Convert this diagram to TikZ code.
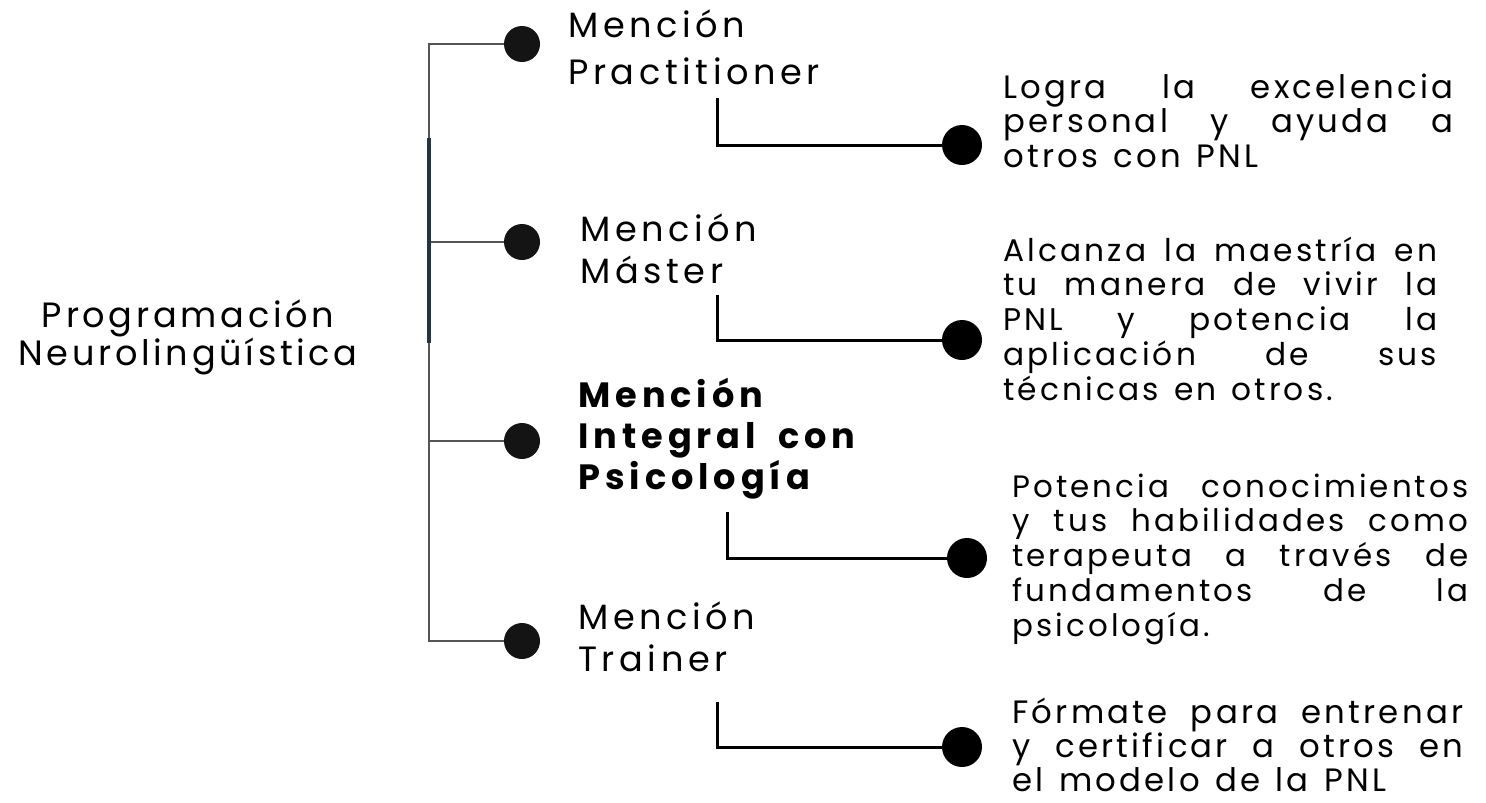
\documentclass[tikz,border=0pt]{standalone}
\usepackage{fontspec}
\setmainfont{Poppins}[LetterSpace=10]
\newfontfamily\descfont{Poppins}[LetterSpace=10,WordSpace=1.3]
\newfontfamily\boldlabelfont{Poppins}[LetterSpace=14,WordSpace=1.8]
\definecolor{trunkgray}{HTML}{555555}
\definecolor{trunknavy}{HTML}{243447}
\definecolor{dotblack}{HTML}{141414}

\begin{document}
\begin{tikzpicture}[x=0.02cm,y=-0.02cm,
    mention/.style={anchor=base west,inner sep=0pt,text width=8cm,align=left},
    desc/.style={anchor=base west,inner sep=0pt,align=justify},
    bigdot/.style={circle,fill=dotblack,inner sep=0pt,minimum size=0.72cm},
    enddot/.style={circle,fill=black,inner sep=0pt,minimum size=0.8cm},
    twig/.style={line width=1.1pt,trunkgray},
    elbow/.style={line width=1.7pt,black}]
    \useasboundingbox (0,0) rectangle (1486,802);
    % root label
    \node[anchor=base,inner sep=0pt,text width=8cm,align=center,
          font=\fontsize{20}{18.8}\selectfont\addfontfeature{LetterSpace=10.5}] (pnl) at (188,327)
          {Programación\\Neurolingüística};
    % trunk with the four branches
    \foreach \name/\y in {d1/44,d2/242,d3/441,d4/641}
        {\node[bigdot] (\name) at (522,\y) {};
        }
    \coordinate (ttop) at (429,44);
    \coordinate (tbot) at (429,641);
    \draw[twig] (d1) -- (ttop) -- (tbot) -- (d4);
    \draw[twig] (d2) -- (d2 -| ttop);
    \draw[twig] (d3) -- (d3 -| ttop);
    \coordinate (ntop) at (429,138);
    \coordinate (nbot) at (429,343);
    \draw[line width=2pt,trunknavy] (ntop) -- (nbot);
    % labels
    \node[mention,font=\fontsize{20}{27.3}\selectfont\addfontfeature{LetterSpace=13}] (m1) at (568,37) {Mención\\Practitioner};
    \node[mention,font=\fontsize{20}{23.9}\selectfont\addfontfeature{LetterSpace=13}] (m2) at (580,241) {Mención\\Máster};
    \node[mention,align=justify,font=\boldlabelfont\bfseries\fontsize{20}{23.6}\selectfont] (m3) at (578,407) {Mención\\Integral con\\Psicología};
    \node[mention,font=\fontsize{20}{23.9}\selectfont\addfontfeature{LetterSpace=13}] (m4) at (578,629) {Mención\\Trainer};
    % elbows to the descriptions
    \foreach \k/\cx/\cy/\ey/\dx in {1/717/98/145/962,2/717/295/340/962,3/727/512/558/967,4/717/702/747/962}
        {\coordinate (c\k) at (\cx,\cy);
         \node[enddot] (e\k) at (\dx,\ey) {};
         \draw[elbow] (c\k) |- (e\k);
        }
    % descriptions
    \node[desc,text width=9cm,font=\descfont\fontsize{18.4}{19.9}\selectfont] (t1) at (1003,98)
        {Logra la excelencia\linebreak personal y ayuda a\linebreak otros con PNL};
    \node[desc,text width=8.68cm,font=\descfont\fontsize{17.8}{19.9}\selectfont] (t2) at (1003,261)
        {Alcanza la maestría en\linebreak tu manera de vivir la\linebreak PNL y potencia la\linebreak aplicación de sus\linebreak técnicas en otros.};
    \node[desc,text width=9.12cm,font=\descfont\fontsize{17.6}{19.9}\selectfont] (t3) at (1012,497)
        {Potencia conocimientos\linebreak y tus habilidades como\linebreak terapeuta a través de\linebreak fundamentos de la\linebreak psicología.};
    \node[desc,text width=9.02cm,font=\descfont\fontsize{18.4}{19.6}\selectfont] (t4) at (1012,723)
        {Fórmate para entrenar\linebreak y certificar a otros en\linebreak el modelo de la PNL};
\end{tikzpicture}
\end{document}
